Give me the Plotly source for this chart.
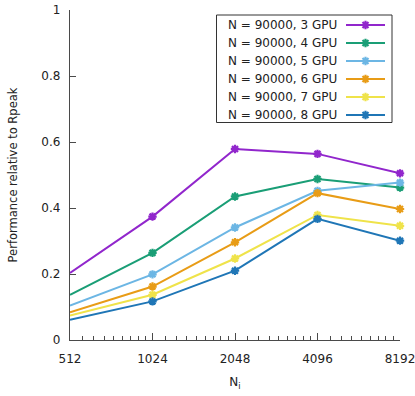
import math
import plotly.graph_objects as go

# Problem sizes along the x axis (log2 scale)
ni_values = [512, 1024, 2048, 4096, 8192]
x_tick_labels = ["512", "1024", "2048", "4096", "8192"]

series_names = [
    "N = 90000, 3 GPU",
    "N = 90000, 4 GPU",
    "N = 90000, 5 GPU",
    "N = 90000, 6 GPU",
    "N = 90000, 7 GPU",
    "N = 90000, 8 GPU",
]
perf_3gpu = [0.203, 0.374, 0.579, 0.564, 0.505]
perf_4gpu = [0.137, 0.264, 0.435, 0.488, 0.462]
perf_5gpu = [0.104, 0.199, 0.341, 0.452, 0.477]
perf_6gpu = [0.084, 0.162, 0.296, 0.445, 0.397]
perf_7gpu = [0.074, 0.137, 0.247, 0.379, 0.346]
perf_8gpu = [0.061, 0.117, 0.210, 0.367, 0.301]
series_values = [perf_3gpu, perf_4gpu, perf_5gpu, perf_6gpu, perf_7gpu, perf_8gpu]

y_tick_values = [0, 0.2, 0.4, 0.6, 0.8, 1]
y_tick_labels = ["0", "0.2", "0.4", "0.6", "0.8", "1"]

colors = ["#9126cc", "#1a9e76", "#6cb6e4", "#e89c16", "#efe34a", "#1f76b6"]

W, H = 415, 396
M_L, M_R, M_T, M_B = 70, 15, 10, 56
PW, PH = W - M_L - M_R, H - M_T - M_B

FONT = "DejaVu Sans"
AXIS_COLOR = "#4a4a4a"

# minor ticks: nine linear steps inside each octave
minor_vals = []
for base in ni_values[:-1]:
    for k in range(1, 9):
        minor_vals.append(base * (1 + k / 9))

MARKER = dict(symbol="asterisk-open", size=7)

fig = go.Figure()

for name, vals, col in zip(series_names, series_values, colors):
    fig.add_trace(go.Scatter(
        x=ni_values, y=vals, name=name, mode="lines+markers",
        line=dict(color=col, width=2),
        marker=dict(**MARKER, color=col, line=dict(color=col, width=2.2)),
        showlegend=False, cliponaxis=False,
    ))


def px_x(p):
    return (p - M_L) / PW


def px_y(p):
    return (H - M_B - p) / PH


# legend box drawn in paper coordinates, sample line to the right of the text
box_l, box_r, box_t, box_b = 216.5, 392, 15, 122.5
shapes = [dict(type="rect", xref="paper", yref="paper",
               x0=px_x(box_l), x1=px_x(box_r), y0=px_y(box_b), y1=px_y(box_t),
               line=dict(color="#333333", width=1), fillcolor="rgba(255,255,255,0)")]
annotations = []
row0, row_step = 25, 18
seg_l, seg_r, text_r = 346, 385, 339
for i, (name, col) in enumerate(zip(series_names, colors)):
    ry = row0 + i * row_step
    shapes.append(dict(type="line", xref="paper", yref="paper",
                       x0=px_x(seg_l), x1=px_x(seg_r), y0=px_y(ry), y1=px_y(ry),
                       line=dict(color=col, width=2)))
    annotations.append(dict(xref="paper", yref="paper", x=px_x(text_r), y=px_y(ry),
                            text=name, showarrow=False, xanchor="right", yanchor="middle",
                            font=dict(family=FONT, size=12, color="#222222")))
    fig.add_trace(go.Scatter(
        x=[px_x((seg_l + seg_r) / 2)], y=[px_y(ry)], xaxis="x2", yaxis="y2",
        mode="markers", showlegend=False, hoverinfo="skip", cliponaxis=False,
        marker=dict(**MARKER, color=col, line=dict(color=col, width=2.2)),
    ))

fig.update_layout(
    width=W, height=H,
    margin=dict(l=M_L, r=M_R, t=M_T, b=M_B, autoexpand=False),
    paper_bgcolor="white", plot_bgcolor="white",
    showlegend=False,
    font=dict(family=FONT, size=12, color="#222222"),
    xaxis=dict(
        type="log", range=[math.log10(ni_values[0]), math.log10(ni_values[-1])],
        tickvals=ni_values, ticktext=x_tick_labels,
        ticks="inside", ticklen=7, tickwidth=1, tickcolor=AXIS_COLOR,
        minor=dict(tickmode="array", tickvals=minor_vals, ticks="inside",
                   ticklen=4, tickwidth=1, tickcolor=AXIS_COLOR, showgrid=False),
        showline=True, linecolor=AXIS_COLOR, linewidth=1.3,
        showgrid=False, zeroline=False, automargin=False,
        ticklabeloverflow="allow", ticklabelstandoff=7,
        tickfont=dict(family=FONT, size=12),
        title=dict(text="N<sub>i</sub>", font=dict(family=FONT, size=12), standoff=13),
    ),
    yaxis=dict(
        range=[0, 1],
        tickvals=y_tick_values, ticktext=y_tick_labels,
        ticks="inside", ticklen=6, tickwidth=1, tickcolor=AXIS_COLOR,
        showline=True, linecolor=AXIS_COLOR, linewidth=1.3,
        showgrid=False, zeroline=False, automargin=False,
        ticklabelstandoff=6,
        tickfont=dict(family=FONT, size=12),
        title=dict(text="Performance relative to Rpeak",
                   font=dict(family=FONT, size=11.5), standoff=21),
    ),
    xaxis2=dict(range=[0, 1], overlaying="x", visible=False, fixedrange=True),
    yaxis2=dict(range=[0, 1], overlaying="y", visible=False, fixedrange=True),
    shapes=shapes,
    annotations=annotations,
)

fig.write_html("out.html")
